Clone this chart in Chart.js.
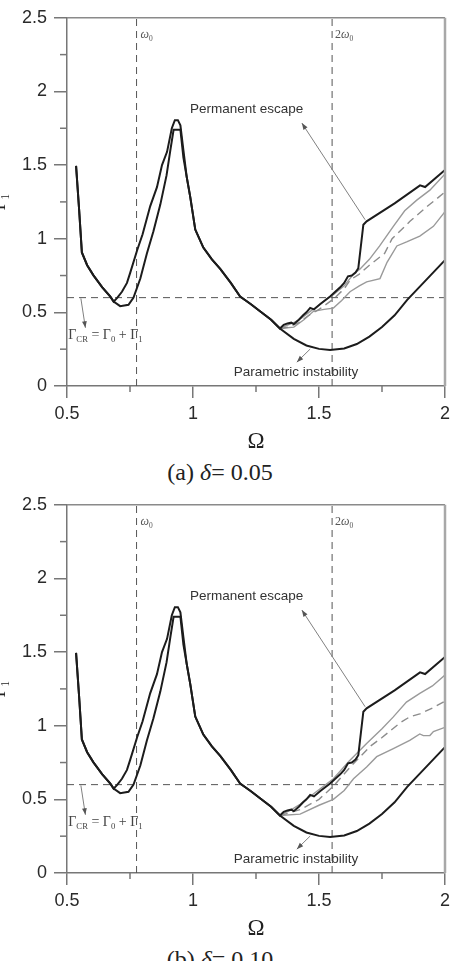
<!DOCTYPE html>
<html>
<head>
<meta charset="utf-8">
<script src="https://cdn.jsdelivr.net/npm/chart.js@4.4.0/dist/chart.umd.min.js"></script>
<style>
body{margin:0;background:#fff;}
.panel{position:absolute;left:0;width:451px;height:487px;}
.panel canvas{position:absolute;left:0;top:0;}
.caption{position:absolute;left:0;top:452px;width:440px;text-align:center;font-family:'Liberation Serif','Times New Roman',serif;font-size:24px;line-height:40px;color:#222;}
</style>
</head>
<body>
<div class="panel" style="top:0"><canvas id="chartA" width="451" height="452"></canvas><div class="caption">(a) <i>δ</i>= 0.05</div></div>
<div class="panel" style="top:487px"><canvas id="chartB" width="451" height="452"></canvas><div class="caption">(b) <i>δ</i>= 0.10</div></div>
<script>
// reference values
const omega0 = 0.776;
const omega0x2 = 1.552;
const gammaCR = 0.6;

// shared black curves (Ω , Γ1)
const startOmega = [0.536, 0.548, 0.559, 0.58, 0.605, 0.64, 0.672, 0.685];
const startGamma = [1.495, 1.2, 0.907, 0.82, 0.751, 0.67, 0.607, 0.573];
const upperLoopOmega = [0.70, 0.718, 0.738, 0.751, 0.778, 0.80, 0.83, 0.857, 0.877, 0.897, 0.916, 0.928, 0.94, 0.95, 0.962];
const upperLoopGamma = [0.60, 0.64, 0.70, 0.77, 0.92, 1.03, 1.22, 1.35, 1.5, 1.59, 1.75, 1.805, 1.805, 1.77, 1.6];
const lowerLoopOmega = [0.711, 0.744, 0.764, 0.791, 0.817, 0.843, 0.87, 0.895, 0.91, 0.923, 0.95, 0.962];
const lowerLoopGamma = [0.542, 0.551, 0.60, 0.73, 0.90, 1.05, 1.23, 1.43, 1.6, 1.74, 1.74, 1.551];
const descentOmega = [0.975, 0.989, 1.009, 1.041, 1.075, 1.108, 1.15, 1.187, 1.23, 1.266, 1.31, 1.345];
const descentGamma = [1.42, 1.284, 1.062, 0.94, 0.86, 0.795, 0.70, 0.607, 0.555, 0.507, 0.45, 0.39];
const paramOmega = [1.4, 1.45, 1.5, 1.544, 1.6, 1.65, 1.7, 1.75, 1.8, 1.85, 1.9, 1.95, 2.0];
const paramGamma = [0.32, 0.275, 0.252, 0.245, 0.255, 0.285, 0.335, 0.4, 0.48, 0.585, 0.675, 0.765, 0.855];
const escapeOmega = [1.36, 1.375, 1.39, 1.40, 1.42, 1.437, 1.45, 1.465, 1.48, 1.504, 1.544, 1.584, 1.60, 1.615, 1.63, 1.645, 1.656, 1.676, 1.689, 1.80, 1.901, 1.921, 2.0];
const escapeGamma = [0.415, 0.425, 0.43, 0.42, 0.45, 0.48, 0.5, 0.53, 0.52, 0.555, 0.607, 0.67, 0.70, 0.745, 0.75, 0.77, 0.80, 1.095, 1.118, 1.24, 1.362, 1.351, 1.467];

// gray curves, delta = 0.05
const grayHiOmegaA = [1.345, 1.37, 1.40, 1.43, 1.46, 1.50, 1.53, 1.557, 1.60, 1.637, 1.663, 1.70, 1.74, 1.795, 1.84, 1.888, 1.94, 2.0];
const grayHiGammaA = [0.39, 0.41, 0.43, 0.46, 0.50, 0.55, 0.59, 0.62, 0.68, 0.76, 0.795, 0.86, 0.95, 1.084, 1.19, 1.262, 1.33, 1.44];
const grayMidOmegaA = [1.345, 1.38, 1.42, 1.46, 1.50, 1.557, 1.60, 1.624, 1.66, 1.70, 1.76, 1.79, 1.861, 1.93, 2.0];
const grayMidGammaA = [0.39, 0.40, 0.43, 0.48, 0.52, 0.59, 0.66, 0.72, 0.76, 0.82, 0.90, 1.0, 1.118, 1.22, 1.317];
const grayLoOmegaA = [1.345, 1.40, 1.44, 1.478, 1.52, 1.557, 1.59, 1.623, 1.66, 1.689, 1.742, 1.77, 1.809, 1.85, 1.9, 1.954, 2.0];
const grayLoGammaA = [0.39, 0.40, 0.45, 0.507, 0.52, 0.529, 0.58, 0.64, 0.68, 0.707, 0.729, 0.84, 0.951, 0.98, 1.018, 1.084, 1.184];

// gray curves, delta = 0.10
const grayHiOmegaB = [1.345, 1.40, 1.425, 1.48, 1.557, 1.62, 1.689, 1.75, 1.795, 1.847, 1.9, 1.95, 2.0];
const grayHiGammaB = [0.39, 0.44, 0.467, 0.54, 0.64, 0.76, 0.88, 0.98, 1.06, 1.16, 1.22, 1.27, 1.344];
const grayMidOmegaB = [1.345, 1.425, 1.50, 1.557, 1.624, 1.703, 1.75, 1.822, 1.86, 1.90, 1.95, 2.0];
const grayMidGammaB = [0.39, 0.43, 0.50, 0.59, 0.72, 0.86, 0.92, 1.02, 1.06, 1.08, 1.12, 1.167];
const grayLoOmegaB = [1.345, 1.425, 1.50, 1.557, 1.60, 1.637, 1.689, 1.729, 1.795, 1.86, 1.9, 1.914, 1.94, 1.954, 2.0];
const grayLoGammaB = [0.39, 0.40, 0.46, 0.50, 0.56, 0.64, 0.72, 0.79, 0.844, 0.9, 0.944, 0.933, 0.933, 0.96, 0.989];

const pts = (xs, ys) => xs.map((x, i) => ({x, y: ys[i]}));
const serif = "'Liberation Serif','Times New Roman',serif";
const sans = "'Liberation Sans',Arial,sans-serif";

// text with subscripts: parts = [[text, isSub, italic], ...]
function drawSubText(ctx, parts, x, y, size){
  let cx = x;
  ctx.textAlign = 'left'; ctx.textBaseline = 'alphabetic';
  parts.forEach(p => {
    ctx.font = (p[2] ? 'italic ' : '') + (p[1] ? size*0.62 : size) + 'px ' + serif;
    ctx.fillText(p[0], cx, p[1] ? y + size*0.22 : y);
    cx += ctx.measureText(p[0]).width;
  });
}
function arrow(ctx, x1, y1, x2, y2){
  ctx.beginPath(); ctx.moveTo(x1, y1); ctx.lineTo(x2, y2); ctx.stroke();
  const a = Math.atan2(y2 - y1, x2 - x1), L = 7, s = 0.35;
  ctx.beginPath();
  ctx.moveTo(x2, y2);
  ctx.lineTo(x2 - L*Math.cos(a - s), y2 - L*Math.sin(a - s));
  ctx.lineTo(x2 - L*Math.cos(a + s), y2 - L*Math.sin(a + s));
  ctx.closePath(); ctx.fill();
}

const extras = {
  id: 'extras',
  afterDraw(chart){
    const {ctx, chartArea: a, scales: {x, y}} = chart;
    ctx.save();
    // frame
    ctx.strokeStyle = '#8a8a8a'; ctx.lineWidth = 1.5;
    ctx.beginPath(); ctx.moveTo(a.left, a.top); ctx.lineTo(a.right, a.top); ctx.stroke();
    ctx.strokeStyle = '#a8a8a8'; ctx.lineWidth = 2.5;
    ctx.beginPath(); ctx.moveTo(a.right, a.top); ctx.lineTo(a.right, a.bottom); ctx.stroke();
    // minor ticks
    ctx.strokeStyle = '#777'; ctx.lineWidth = 1.5;
    for (let v = 0.75; v < 2; v += 0.5) {
      const px = x.getPixelForValue(v);
      ctx.beginPath(); ctx.moveTo(px, a.bottom); ctx.lineTo(px, a.bottom + 6); ctx.stroke();
    }
    for (let v = 0.25; v < 2.5; v += 0.5) {
      const py = y.getPixelForValue(v);
      ctx.beginPath(); ctx.moveTo(a.left - 7, py); ctx.lineTo(a.left, py); ctx.stroke();
    }
    const X = v => x.getPixelForValue(v), Y = v => y.getPixelForValue(v);
    // arrows
    ctx.strokeStyle = '#808080'; ctx.fillStyle = '#555'; ctx.lineWidth = 1;
    arrow(ctx, X(1.683), Y(1.129), X(1.432), Y(1.785));
    arrow(ctx, X(1.465), Y(0.251), X(1.412), Y(0.162));
    arrow(ctx, X(0.555), Y(0.595), X(0.573), Y(0.395));
    // labels
    ctx.fillStyle = '#333';
    ctx.font = '13.5px ' + sans; ctx.textAlign = 'center'; ctx.textBaseline = 'middle';
    ctx.fillText('Permanent escape', X(1.213), Y(1.88));
    ctx.fillText('Parametric instability', X(1.409), Y(0.093));
    ctx.fillStyle = '#555';
    drawSubText(ctx, [['ω', false, true], ['0', true]], X(omega0) + 4, Y(2.36), 12);
    drawSubText(ctx, [['2', false], ['ω', false, true], ['0', true]], X(omega0x2) + 3, Y(2.36), 12);
    ctx.fillStyle = '#444';
    drawSubText(ctx, [['Γ', false], ['CR', true], [' = Γ', false], ['0', true], [' + Γ', false], ['1', true]], X(0.505), Y(0.32), 14);
    ctx.restore();
  }
};

function makeChart(id, hiO, hiG, midO, midG, loO, loG){
  const escape = pts(startOmega.concat(upperLoopOmega, descentOmega, escapeOmega),
                     startGamma.concat(upperLoopGamma, descentGamma, escapeGamma));
  const param = pts(startOmega.concat(lowerLoopOmega, descentOmega, paramOmega),
                    startGamma.concat(lowerLoopGamma, descentGamma, paramGamma));
  const black = {borderColor:'#1c1c1c', borderWidth:2, pointRadius:0, tension:0, fill:false};
  const gray = {borderColor:'#9a9a9a', borderWidth:1.4, pointRadius:0, tension:0, fill:false};
  const ref = {borderColor:'#555', borderWidth:1, borderDash:[7,5], pointRadius:0, fill:false};
  const tickFont = {family: sans, size: 18};
  return new Chart(document.getElementById(id), {
    type: 'line',
    data: { datasets: [
      Object.assign({label:'Permanent escape', data: escape}, black),
      Object.assign({label:'Parametric instability', data: param}, black),
      Object.assign({label:'upper', data: pts(hiO, hiG)}, gray),
      Object.assign({label:'mid', data: pts(midO, midG), borderDash:[8,5]}, gray, {borderColor:'#8c8c8c'}),
      Object.assign({label:'lower', data: pts(loO, loG)}, gray),
      Object.assign({label:'w0', data: [{x:omega0, y:0}, {x:omega0, y:2.5}]}, ref),
      Object.assign({label:'2w0', data: [{x:omega0x2, y:0}, {x:omega0x2, y:2.5}]}, ref),
      Object.assign({label:'GCR', data: [{x:0.5, y:gammaCR}, {x:2, y:gammaCR}]}, ref)
    ]},
    options: {
      responsive: false, animation: false, devicePixelRatio: 1,
      layout: { padding: {top: 11, right: 0, left: 0, bottom: 0} },
      plugins: { legend: {display:false}, tooltip: {enabled:false} },
      scales: {
        x: {
          type: 'linear', min: 0.5, max: 2,
          ticks: {stepSize: 0.5, autoSkip: false, maxRotation: 0, padding: 5, color: '#2a2a2a', font: tickFont, callback: v => String(v)},
          grid: {drawOnChartArea: false, tickLength: 12, color: '#777', lineWidth: 1.5},
          border: {display: true, color: '#777', width: 1.5},
          title: {display: true, text: 'Ω', color: '#222', font: {family: serif, size: 23, lineHeight: 1}, padding: {top: 0, bottom: -1}},
          afterFit: s => { s.height = 66; s.paddingRight = 6; }
        },
        y: {
          min: 0, max: 2.5,
          ticks: {stepSize: 0.5, padding: 7, color: '#2a2a2a', font: tickFont, callback: v => String(v)},
          grid: {drawOnChartArea: false, tickLength: 13, color: '#777', lineWidth: 1.5},
          border: {display: true, color: '#777', width: 1.5},
          title: {display: true, text: 'Γ₁', color: '#222', font: {family: serif, size: 18, lineHeight: 1}, padding: {top: -9, bottom: 0}},
          afterFit: s => { s.width = 67; }
        }
      }
    },
    plugins: [extras]
  });
}

makeChart('chartA', grayHiOmegaA, grayHiGammaA, grayMidOmegaA, grayMidGammaA, grayLoOmegaA, grayLoGammaA);
makeChart('chartB', grayHiOmegaB, grayHiGammaB, grayMidOmegaB, grayMidGammaB, grayLoOmegaB, grayLoGammaB);
</script>
</body>
</html>
